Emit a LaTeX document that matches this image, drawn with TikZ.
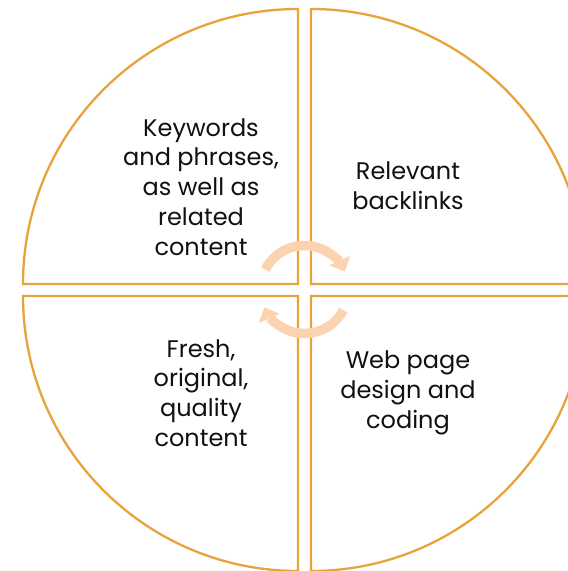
\documentclass[tikz,border=0pt]{standalone}
\usepackage{fontspec}
\setmainfont{Poppins}
\usetikzlibrary{arrows.meta}
\definecolor{ringorange}{HTML}{E9A33C}
\definecolor{cyclepeach}{HTML}{FCD3B0}
\definecolor{labeltext}{HTML}{111111}
\tikzset{
  quarter/.style={draw=ringorange, line width=2.3pt, line join=miter, fill=white},
  label/.style={align=center, text=labeltext, font=\fontsize{24}{29.8}\selectfont, inner sep=0pt},
  cyclearrow/.style={draw=cyclepeach, line width=9.5pt,
    -{Triangle[width=22pt,length=12pt]}}
}
\begin{document}
\begin{tikzpicture}[x=1pt,y=1pt]
  \useasboundingbox (0,0) rectangle (568,571);
  \clip (0,0) rectangle (568,571);
  \fill[white] (0,0) rectangle (568,571);

  % four quarter sectors of the ring, pulled apart by a narrow gap
  \draw[quarter] (298,287) -- (23,287) arc[start angle=180, end angle=90, radius=275] -- cycle;
  \draw[quarter] (311,287) -- (586,287) arc[start angle=0, end angle=90, radius=275] -- cycle;
  \draw[quarter] (298,275) -- (23,275) arc[start angle=180, end angle=270, radius=275] -- cycle;
  \draw[quarter] (311,275) -- (586,275) arc[start angle=0, end angle=-90, radius=275] -- cycle;

  % circular arrows in the middle
  \coordinate (hub) at (304.5,281.5);
  \draw[cyclearrow] ([shift={(153:44)}]hub) arc[start angle=153, end angle=24, radius=44];
  \draw[cyclearrow] ([shift={(-28:44)}]hub) arc[start angle=-28, end angle=-156, radius=44];

  % quadrant labels
  \node[label] (keywords) at (201,384) {Keywords\\and phrases,\\as well as\\related\\content};
  \node[label] (backlinks) at (408,385) {Relevant\\backlinks};
  \node[label] (fresh) at (201,178) {Fresh,\\original,\\quality\\content};
  \node[label] (webdesign) at (408,178) {Web page\\design and\\coding};
\end{tikzpicture}
\end{document}
